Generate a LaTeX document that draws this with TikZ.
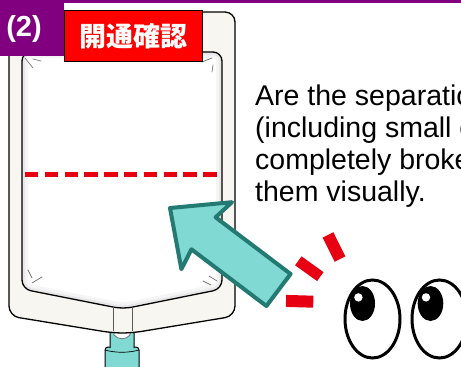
\documentclass[tikz,border=0pt]{standalone}
\usepackage{fontspec}
\setmainfont{Liberation Sans}
\newfontfamily\cjkfont{Noto Sans CJK JP}
\definecolor{tagpurple}{RGB}{128,0,128}
\definecolor{tagred}{RGB}{255,0,0}
\definecolor{markred}{RGB}{230,0,18}
\definecolor{tealfill}{RGB}{128,217,210}
\definecolor{tealline}{RGB}{35,122,114}
\definecolor{bagwhite}{RGB}{248,246,241}
\tikzset{
  outerbag/.style={insert path={(9,12) -- (235,12) -- (235,316) -- (132,333) -- (113,333) -- (9,316) -- cycle}},
  innerbag/.style={insert path={(22,52) -- (222,52) -- (222,289) -- (123,309) -- (22,289) -- cycle}},
  portpart/.style={fill=tealfill, draw=black, line width=1},
  crease/.style={draw=black!55, line width=0.7, line cap=round},
  ray/.style={draw=markred, line width=12},
  eyeball/.style={draw=black, fill=white, line width=3},
  bodytext/.style={anchor=base west, inner sep=0, font=\fontsize{28.5}{32}\selectfont}
}
\begin{document}
\begin{tikzpicture}[x=1pt,y=-1pt]
\useasboundingbox (0,0) rectangle (461,367);
\clip (0,0) rectangle (461,367);

% outlet port
\draw[portpart, rounded corners=3] (105,372) -- (105,347) -- (139,347) -- (139,372);
\draw[black, line width=0.7] (105,350) .. controls (115,353) and (129,353) .. (139,350);
\draw[portpart, rounded corners=2] (110,348) -- (110,331) -- (134,331) -- (134,348);
\draw[fill=white, draw=black!60, line width=0.7] (114,331) -- (114,335) .. controls (118,340) and (126,340) .. (130,335) -- (130,331);

% bag
\draw[fill=bagwhite, line width=1.3, rounded corners=10, outerbag];
\fill[white, rounded corners=9, innerbag];
\begin{scope}
  \clip[rounded corners=9, innerbag];
  \draw[black, opacity=0.04, line width=12, rounded corners=9, innerbag];
  \draw[black, opacity=0.05, line width=6, rounded corners=9, innerbag];
\end{scope}
\draw[line width=1.3, rounded corners=9, innerbag];
\draw[black!65, line width=0.8] (113,307.2) -- (113,331) (132,307.2) -- (132,331);

% creases in the corners of the chamber
\draw[crease] (25,58) -- (33,68) (33,59) -- (41,61);
\draw[crease] (202,62) -- (212,58) (213,65) -- (212,72);
\draw[crease] (28,270) -- (32,278) (32,283) -- (42,277);
\draw[crease] (203,281) -- (211,285) (209,276) -- (217,281);

% separation seal
\draw[markred, line width=5, dash pattern=on 13.4pt off 6.4pt] (25,174) -- (217,174);

% labels
\fill[tagpurple] (0,0) rectangle (461,2.5);
\fill[tagpurple] (0,0) rectangle (64,56);
\node[text=white, font=\bfseries\fontsize{29}{29}\selectfont] (num) at (24,29) {(2)};
\draw[fill=tagred, line width=0.8] (64,10) rectangle (202,61);
\node[text=white, font=\cjkfont\bfseries\fontsize{27}{27}\selectfont] (title) at (133,36) {開通確認};

% pointing arrow
\draw[fill=tealfill, draw=tealline, line width=4, line join=round]
  (170,208) -- (232,202.2) -- (215.6,217.3) -- (290.6,274) -- (266.4,306)
  -- (191.4,249.3) -- (181.4,269.2) -- cycle;

% emphasis strokes
\draw[ray] (328,234.9) -- (340,259.1);
\draw[ray, line width=11] (298.3,260.8) -- (320.3,276.6);
\draw[ray] (286,300.9) -- (313.3,301.7);

% eyes
\draw[eyeball] (372.5,319) ellipse [x radius=27.5, y radius=39];
\fill[black] (362.5,303.5) ellipse [x radius=12.5, y radius=17.5];
\fill[white] (358.4,297.4) circle [radius=4.2];
\draw[eyeball] (439.5,319) ellipse [x radius=27.5, y radius=39];
\fill[black] (430.5,303.5) ellipse [x radius=12.8, y radius=17.5];
\fill[white] (426,297.4) circle [radius=4.2];

% question text
\node[bodytext] (l1) at (255,105) {Are the separatio};
\node[bodytext] (l2) at (255,137) {(including small o};
\node[bodytext] (l3) at (255,169) {completely broke};
\node[bodytext] (l4) at (255,201) {them visually.};
\end{tikzpicture}
\end{document}
